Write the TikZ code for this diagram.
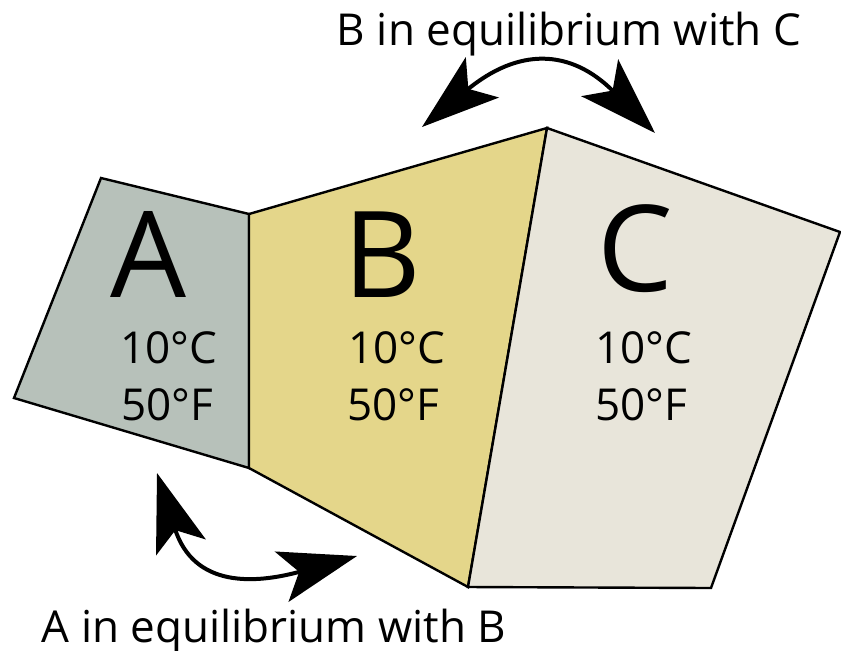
\documentclass[tikz,border=0pt]{standalone}
\usepackage{fontspec}
\setmainfont{Open Sans}
\usepackage{xcolor}
\usetikzlibrary{arrows.meta}
\definecolor{fillA}{RGB}{183,193,186}
\definecolor{fillB}{RGB}{228,214,138}
\definecolor{fillC}{RGB}{232,229,218}

\begin{document}
\begin{tikzpicture}[x=0.5pt, y=-0.5pt,
    blockstyle/.style={draw=black, line width=1.2pt, line join=miter},
    swapstyle/.style={{Stealth[length=39pt, width=26pt, inset=9pt]}-{Stealth[length=39pt, width=26pt, inset=9pt]}, line width=2pt},
    bigletter/.style={font=\fontsize{60}{60}\selectfont, inner sep=0pt, anchor=base},
    tempstyle/.style={font=\fontsize{22}{26}\selectfont, inner sep=0pt, anchor=base},
    labelstyle/.style={font=\fontsize{22}{26}\selectfont, inner sep=0pt, anchor=base}]
  \useasboundingbox (0,0) rectangle (841,650);
  \coordinate (A1) at (101,178);
  \coordinate (A2) at (249,214);
  \coordinate (A3) at (249,468);
  \coordinate (A4) at (14,398);
  \coordinate (B2) at (547,128);
  \coordinate (B3) at (468,587);
  \coordinate (C2) at (840,232);
  \coordinate (C3) at (711,588);
  \draw[blockstyle, fill=fillA] (A1) -- (A2) -- (A3) -- (A4) -- cycle;
  \draw[blockstyle, fill=fillB] (A2) -- (B2) -- (B3) -- (A3) -- cycle;
  \draw[blockstyle, fill=fillC] (B2) -- (C2) -- (C3) -- (B3) -- cycle;
  \node[bigletter] (letA) at (148,297) {A};
  \node[tempstyle] (celsA) at (169,363) {10°C};
  \node[tempstyle] (fahrA) at (167,420) {50°F};
  \node[bigletter] (letB) at (382,297) {B};
  \node[tempstyle] (celsB) at (397,363) {10°C};
  \node[tempstyle] (fahrB) at (393,420) {50°F};
  \node[bigletter] (letC) at (635,291) {C};
  \node[tempstyle] (celsC) at (644,363) {10°C};
  \node[tempstyle] (fahrC) at (641,420) {50°F};
  \node[labelstyle] (labBC) at (569,45) {B in equilibrium with C};
  \node[labelstyle] (labAB) at (274,642) {A in equilibrium with B};
  \coordinate (bcL) at (422,127);
  \coordinate (bcR) at (655,133);
  \coordinate (abL) at (157,473);
  \coordinate (abR) at (357,556);
  \draw[swapstyle] (bcL) .. controls (518,48) and (570,48) .. (bcR);
  \draw[swapstyle] (abL) .. controls (194,588) and (255,584) .. (abR);
\end{tikzpicture}
\end{document}
